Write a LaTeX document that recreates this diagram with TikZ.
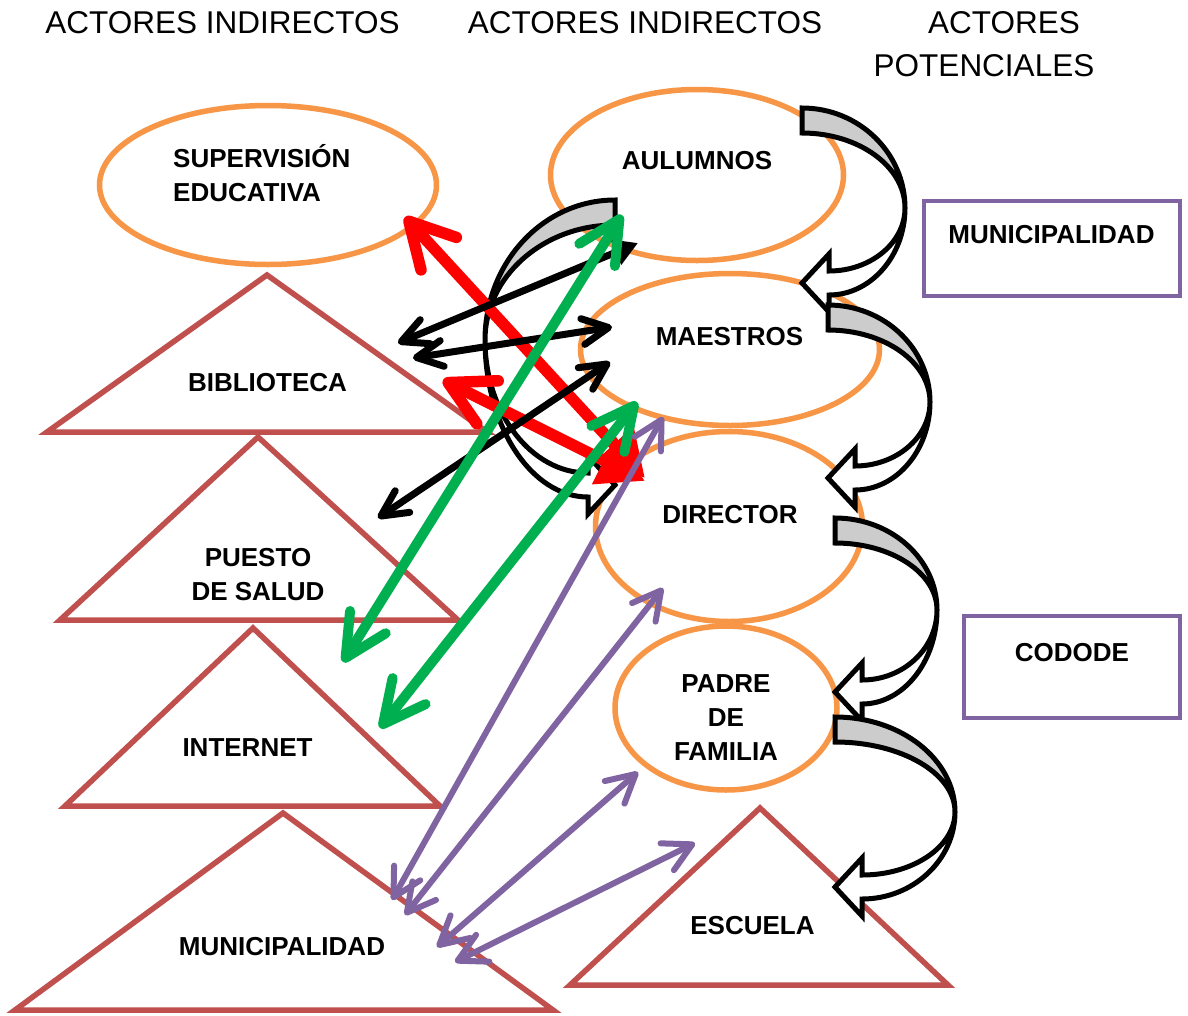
\documentclass[tikz,border=0pt]{standalone}
\usepackage{fontspec}
\setmainfont{Liberation Sans}
\usetikzlibrary{arrows.meta,shapes.geometric}
\definecolor{orng}{HTML}{F79646}
\definecolor{trired}{HTML}{C0504D}
\definecolor{purp}{HTML}{8064A2}
\definecolor{grn}{HTML}{00B050}
\definecolor{rd}{HTML}{FF0000}
\definecolor{bandgray}{HTML}{CCCCCC}
% curved block arrow: #1,#2 tail top corner, #3 direction (1 right, -1 left), #4 width, #5 tip depth, #6 depth of turning point
\newcommand{\curvarrow}[6]{%
 \begin{scope}[shift={(#1,#2)}, xscale=#3]
  \pgfmathsetmacro\caW{#4}%
  \pgfmathsetmacro\caH{#5}%
  \pgfmathsetmacro\caM{#6}%
  \pgfmathsetmacro\caR{#6-25}%
  \pgfmathsetmacro\caST{#5-12}%
  \pgfmathsetmacro\caSB{#5+12}%
  \pgfmathsetmacro\caBT{#5-29}%
  \pgfmathsetmacro\caBB{#5+29}%
  \pgfmathsetmacro\caLa{#6+0.55*(\caSB-#6)}%
  \pgfmathsetmacro\caLb{27+0.55*(#4-27)}%
  \pgfmathsetmacro\caUa{#6+0.55*(\caST-#6)}%
  \draw[cband, fill=bandgray] (0,0) arc[start angle=-90, end angle=0, x radius=\caW, y radius=\caM]
     arc[start angle=0, end angle=-90, x radius=\caW, y radius=\caR] -- cycle;
  \draw[cband, fill=white] (\caW,\caM) .. controls (\caW,\caLa) and (\caLb,\caSB) .. (27,\caSB)
     -- (27,\caBB) -- (0,\caH) -- (27,\caBT) -- (27,\caST)
     .. controls (\caLb,\caST) and (\caW,\caUa) .. (\caW,\caM) -- cycle;
 \end{scope}}
\begin{document}
\begin{tikzpicture}[x=1pt,y=-1pt,
  ell/.style={ellipse, draw=orng, line width=5.5pt, inner sep=0pt},
  tri/.style={draw=trired, line width=5.5pt},
  box/.style={draw=purp, line width=4.5pt, inner sep=0pt},
  lbl/.style={font=\bfseries\fontsize{26}{34}\selectfont, inner sep=0pt, align=center},
  ttl/.style={font=\fontsize{31.5}{43}\selectfont, inner sep=0pt},
  cband/.style={draw=black, line width=5pt, line join=miter},
  ra/.style={draw=rd, line width=11.5pt, line cap=round},
  ga/.style={draw=grn, line width=10pt, line cap=round},
  ka/.style={draw=black, line width=7pt, line cap=round},
  pa/.style={draw=purp, line width=6pt, line cap=round},
  rbarb/.style={{Straight Barb[length=44pt,width=48pt,round]}-{Triangle[length=46pt,width=50pt]}},
  gbarb/.style={{Straight Barb[length=42pt,width=42pt,round]}-{Straight Barb[length=42pt,width=42pt,round]}},
  kbarb/.style={{Straight Barb[length=26pt,width=26pt,round]}-{Straight Barb[length=26pt,width=26pt,round]}},
  ktri/.style={{Straight Barb[length=26pt,width=26pt,round]}-{Triangle[length=24pt,width=26pt]}},
  pbarb/.style={{Straight Barb[length=28pt,width=30pt,round]}-{Straight Barb[length=28pt,width=30pt,round]}},
]
\useasboundingbox (0,0) rectangle (1188,1015);
\fill[white] (0,0) rectangle (1188,1015);

% titles
\node[ttl] (t1) at (222.5,23) {ACTORES INDIRECTOS};
\node[ttl] (t2) at (645,23) {ACTORES INDIRECTOS};
\node[ttl] (t3) at (1004,23) {ACTORES};
\node[ttl] (t4) at (984,66) {POTENCIALES};

% triangles
\draw[tri] (267,275) -- (487,432) -- (47,432) -- cycle;
\draw[tri] (258,437) -- (458,620) -- (60,620) -- cycle;
\draw[tri] (253,628) -- (440,806) -- (65,806) -- cycle;
\draw[tri] (283,813) -- (553,1010) -- (15,1010) -- cycle;
\draw[tri] (760,808) -- (948,985) -- (570,985) -- cycle;

% ellipses
\node[ell, minimum width=337pt, minimum height=159pt] (sup) at (268,185) {};
\node[ell, minimum width=293pt, minimum height=171pt] (aul) at (697,175) {};
\node[ell, minimum width=299pt, minimum height=152pt] (mae) at (730,349.5) {};
\node[ell, minimum width=267pt, minimum height=190pt] (dir) at (729,526.5) {};
\node[ell, minimum width=222pt, minimum height=164pt] (pad) at (726,708) {};

% boxes
\node[box, minimum width=256pt, minimum height=95pt] (bmun) at (1052,248.5) {};
\node[box, minimum width=216pt, minimum height=102pt] (bcod) at (1072,667) {};

% labels
\node[lbl, align=left, anchor=west] (lsup) at (173,173) {SUPERVISIÓN\\EDUCATIVA};
\node[lbl] (laul) at (697,161) {AULUMNOS};
\node[lbl] (lmae) at (729.5,337) {MAESTROS};
\node[lbl] (ldir) at (730,514.5) {DIRECTOR};
\node[lbl] (lpad) at (726,717.5) {PADRE\\DE\\FAMILIA};
\node[lbl] (lbib) at (267.5,383) {BIBLIOTECA};
\node[lbl] (lpue) at (258,575) {PUESTO\\DE SALUD};
\node[lbl] (lint) at (247.5,748) {INTERNET};
\node[lbl] (lmun) at (282,947) {MUNICIPALIDAD};
\node[lbl] (lesc) at (752.5,926) {ESCUELA};
\node[lbl] (lbmun) at (1051.5,235) {MUNICIPALIDAD};
\node[lbl] (lbcod) at (1072,653) {CODODE};

% curved block arrows
\curvarrow{615}{200}{-1}{130}{285}{140}
\curvarrow{802}{108}{1}{103}{175}{100}
\curvarrow{828}{305}{1}{102}{173}{97}
\curvarrow{835}{518}{1}{102}{174}{92}
\curvarrow{835}{717}{1}{120}{170}{95}

% arrow end points
\coordinate (r1a) at (405,217); \coordinate (r1b) at (645,478);
\coordinate (r2a) at (443,380); \coordinate (r2b) at (645,481);
\coordinate (k1a) at (398,343); \coordinate (k1b) at (638,243);
\coordinate (k2a) at (413,358); \coordinate (k2b) at (612,327);
\coordinate (k3a) at (378,518); \coordinate (k3b) at (610,362);
\coordinate (g1a) at (343,662); \coordinate (g1b) at (622,215);
\coordinate (g2a) at (380,728); \coordinate (g2b) at (637,402);
\coordinate (p1a) at (392,900); \coordinate (p1b) at (663,417);
\coordinate (p2a) at (405,915); \coordinate (p2b) at (663,588);
\coordinate (p3a) at (437,947); \coordinate (p3b) at (638,772);
\coordinate (p4a) at (455,962); \coordinate (p4b) at (695,843);

\draw[ra, rbarb] (r1a) -- (r1b);
\draw[ra, rbarb] (r2a) -- (r2b);
\draw[ka, ktri] (k1a) -- (k1b);
\draw[ka, kbarb] (k2a) -- (k2b);
\draw[ka, kbarb] (k3a) -- (k3b);
\draw[ga, gbarb] (g1a) -- (g1b);
\draw[ga, gbarb] (g2a) -- (g2b);
\draw[pa, pbarb] (p1a) -- (p1b);
\draw[pa, pbarb] (p2a) -- (p2b);
\draw[pa, pbarb] (p3a) -- (p3b);
\draw[pa, pbarb] (p4a) -- (p4b);
\end{tikzpicture}
\end{document}
